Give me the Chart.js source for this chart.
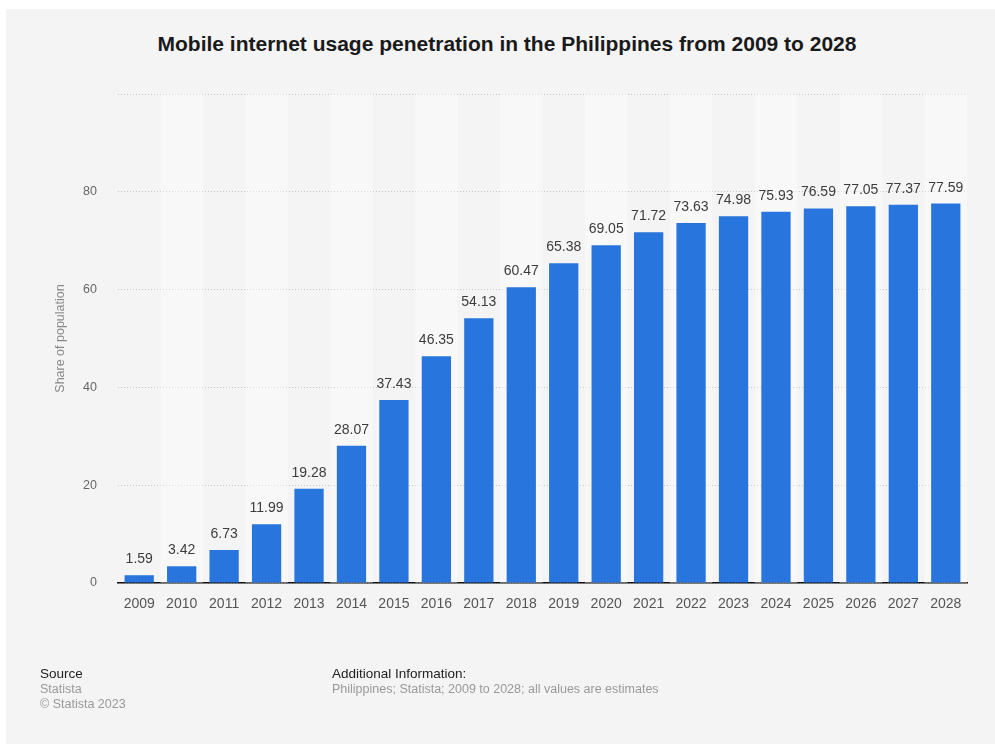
<!DOCTYPE html>
<html>
<head>
<meta charset="utf-8">
<script src="https://cdn.jsdelivr.net/npm/chart.js@4"></script>
<style>
  html, body { margin: 0; padding: 0; background: #ffffff; }
  body { width: 995px; height: 744px; position: relative; overflow: hidden;
         font-family: "Liberation Sans", Arial, Helvetica, sans-serif; }
  #panel { position: absolute; left: 6px; top: 9px; width: 1000px; height: 750px; background: #f4f4f4; }
  #chart { position: absolute; left: 0; top: 0; }
  .title { position: absolute; left: 0; width: 1014px; top: 32px; text-align: center;
           font-weight: bold; font-size: 21px; color: #1a1a1a; white-space: nowrap; }
  .foot { position: absolute; line-height: 15.5px; white-space: nowrap; }
  .foot .head { color: #222; font-size: 13.5px; }
  .foot .sub { color: #999; font-size: 12.5px; }
</style>
</head>
<body>
<div id="panel"></div>
<div class="title">Mobile internet usage penetration in the Philippines from 2009 to 2028</div>
<canvas id="chart" width="995" height="744"></canvas>
<div class="foot" style="left:40px; top:666px;">
  <div class="head">Source</div>
  <div class="sub">Statista</div>
  <div class="sub">© Statista 2023</div>
</div>
<div class="foot" style="left:332px; top:666px;">
  <div class="head">Additional Information:</div>
  <div class="sub">Philippines; Statista; 2009 to 2028; all values are estimates</div>
</div>
<script>
// Years on the category axis
const years = ['2009', '2010', '2011', '2012', '2013', '2014', '2015', '2016', '2017', '2018',
               '2019', '2020', '2021', '2022', '2023', '2024', '2025', '2026', '2027', '2028'];
// Share of population using mobile internet (%)
const penetration = [1.59, 3.42, 6.73, 11.99, 19.28, 28.07, 37.43, 46.35, 54.13, 60.47,
                     65.38, 69.05, 71.72, 73.63, 74.98, 75.93, 76.59, 77.05, 77.37, 77.59];
// Value axis ticks
const yTicks = [0, 20, 40, 60, 80, 100];
const yTitle = 'Share of population';

const FONT = '"Liberation Sans", Arial, Helvetica, sans-serif';

// Light alternating column bands behind the bars
const bandPlugin = {
  id: 'bands',
  beforeDatasetsDraw(chart) {
    const { ctx, chartArea, scales } = chart;
    const x = scales.x;
    const step = (chartArea.right - chartArea.left) / years.length;
    ctx.save();
    ctx.fillStyle = 'rgba(255,255,255,0.38)';
    years.forEach((y, i) => {
      if (i % 2 === 1) {
        const cx = x.getPixelForValue(i);
        ctx.fillRect(cx - step / 2, chartArea.top, step, chartArea.bottom - chartArea.top);
      }
    });
    ctx.restore();
  }
};

// Value labels above each bar
const valueLabelPlugin = {
  id: 'valueLabels',
  afterDatasetsDraw(chart) {
    const { ctx } = chart;
    const meta = chart.getDatasetMeta(0);
    ctx.save();
    ctx.font = '14px ' + FONT;
    ctx.fillStyle = '#3c3c3c';
    ctx.textAlign = 'center';
    ctx.textBaseline = 'alphabetic';
    meta.data.forEach((bar, i) => {
      ctx.fillText(penetration[i].toFixed(2), bar.x, bar.y - 12);
    });
    ctx.restore();
  }
};

new Chart(document.getElementById('chart'), {
  type: 'bar',
  data: {
    labels: years,
    datasets: [{
      data: penetration,
      backgroundColor: '#2876dd',
      barPercentage: 0.69,
      categoryPercentage: 1.0
    }]
  },
  options: {
    responsive: false,
    animation: false,
    devicePixelRatio: 1,
    layout: { padding: { left: 0, right: 28, top: 94, bottom: 121 } },
    plugins: { legend: { display: false }, tooltip: { enabled: false }, title: { display: false } },
    scales: {
      x: {
        afterFit(scale) { scale.height = 40; },
        grid: { display: false, drawTicks: false },
        border: { display: true, color: '#111', width: 1.5 },
        ticks: { color: '#555', font: { family: FONT, size: 14 }, padding: 13, autoSkip: false, maxRotation: 0 }
      },
      y: {
        min: 0, max: 100,
        afterFit(scale) { scale.width = 118; },
        afterBuildTicks(scale) { scale.ticks = yTicks.map(v => ({ value: v })); },
        grid: { color: '#c4c4c4', lineWidth: 1, drawTicks: false },
        border: { display: false, dash: [1, 2] },
        ticks: {
          color: '#666', font: { family: FONT, size: 12.5 }, padding: 21,
          callback: (v) => (v === 100 ? '' : String(v))
        },
        title: {
          display: true, text: yTitle, color: '#8a8a8a',
          font: { family: FONT, size: 12.5 }, padding: { top: 53, bottom: 0 }
        }
      }
    }
  },
  plugins: [bandPlugin, valueLabelPlugin]
});
</script>
</body>
</html>
